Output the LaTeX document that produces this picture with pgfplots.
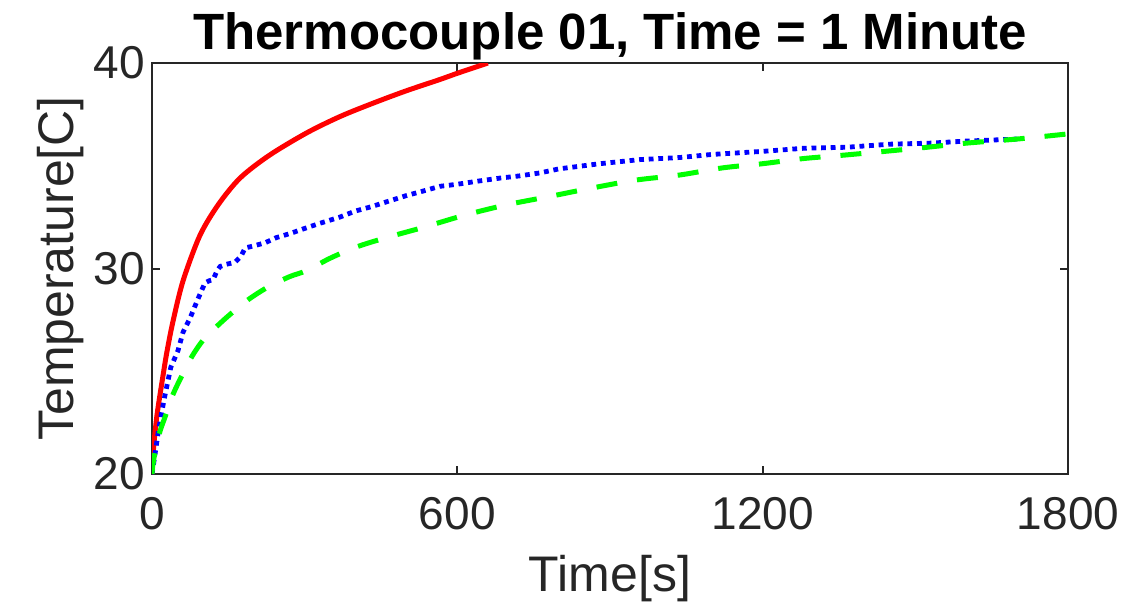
\documentclass[border=0pt]{standalone}
\usepackage{fontspec}
\setmainfont{Liberation Sans}
\usepackage{pgfplots}
\pgfplotsset{compat=1.18}
\definecolor{axgray}{HTML}{262626}
\begin{document}
\begin{tikzpicture}
\useasboundingbox (-76pt,-68.5pt) rectangle (485pt,237pt);
\begin{axis}[
  scale only axis,
  width=458pt, height=205.5pt,
  xmin=0, xmax=1800, ymin=20, ymax=40,
  xtick={0,600,1200,1800}, ytick={20,30,40},
  tick align=inside, major tick length=4pt,
  axis line style={axgray, line width=1pt},
  every tick/.style={axgray, line width=1pt},
  tick label style={font=\fontsize{23}{26}\selectfont, text=axgray},
  xticklabel style={yshift=-8pt},
  /pgf/number format/assume math mode=true,
  /pgf/number format/1000 sep={},
  xlabel={Time[s]}, ylabel={Temperature[C]},
  label style={font=\fontsize{25}{28}\selectfont, text=axgray},
  title={\bfseries Thermocouple 01, Time = 1 Minute},
  title style={font=\fontsize{25.5}{28}\selectfont, yshift=-8pt},
  xlabel style={yshift=-6pt},
  ylabel style={yshift=-2pt},
  clip=true,
]
\addplot[color={rgb,255:red,255;green,0;blue,0}, line width=2.5pt, smooth] coordinates {
(0,20)(2,20.9)(5,21.8)(10,22.9)(16,23.9)(23,25.0)(29,25.9)(41,27.4)(61,29.4)(94,31.6)(130,33.1)(173,34.4)(230,35.5)(304,36.6)(370,37.4)(435,38.05)(500,38.65)(566,39.2)(600,39.5)(660,40.0)
};
\addplot[color={rgb,255:red,0;green,0;blue,255}, line width=2.4pt, dash pattern=on 2.4pt off 2.4pt] coordinates {
(0,20)(5,20.8)(12,22.0)(19,23.0)(26,23.9)(37,25.2)(51,26.0)(61,26.9)(75,27.6)(90,28.5)(104,29.3)(112,29.4)(120,29.45)(128,29.9)(134,30.1)(145,30.2)(163,30.3)(175,30.6)(183,31.0)(200,31.1)(222,31.25)(244,31.5)(271,31.7)(300,31.95)(330,32.2)(369,32.5)(400,32.8)(430,33.0)(468,33.3)(500,33.55)(530,33.75)(566,34.0)(600,34.1)(640,34.25)(684,34.4)(720,34.5)(762,34.65)(800,34.85)(880,35.1)(959,35.3)(1037,35.4)(1100,35.55)(1200,35.7)(1280,35.85)(1365,35.9)(1450,36.05)(1529,36.1)(1600,36.2)(1650,36.25)(1700,36.3)
};
\addplot[color={rgb,255:red,0;green,255;blue,0}, line width=2.5pt, dash pattern=on 10.5pt off 10pt, smooth] coordinates {
(0,20)(2,20.5)(8,21.3)(16,22.1)(26,22.8)(40,23.8)(57,24.7)(78,25.7)(100,26.5)(128,27.2)(155,27.8)(190,28.5)(228,29.1)(270,29.6)(304,29.9)(350,30.5)(402,31.05)(460,31.5)(533,32.0)(615,32.6)(697,33.1)(780,33.5)(861,33.9)(950,34.3)(1037,34.55)(1122,34.9)(1200,35.1)(1280,35.35)(1352,35.5)(1440,35.7)(1523,35.9)(1600,36.1)(1700,36.3)(1800,36.55)
};
\end{axis}
\end{tikzpicture}
\end{document}
